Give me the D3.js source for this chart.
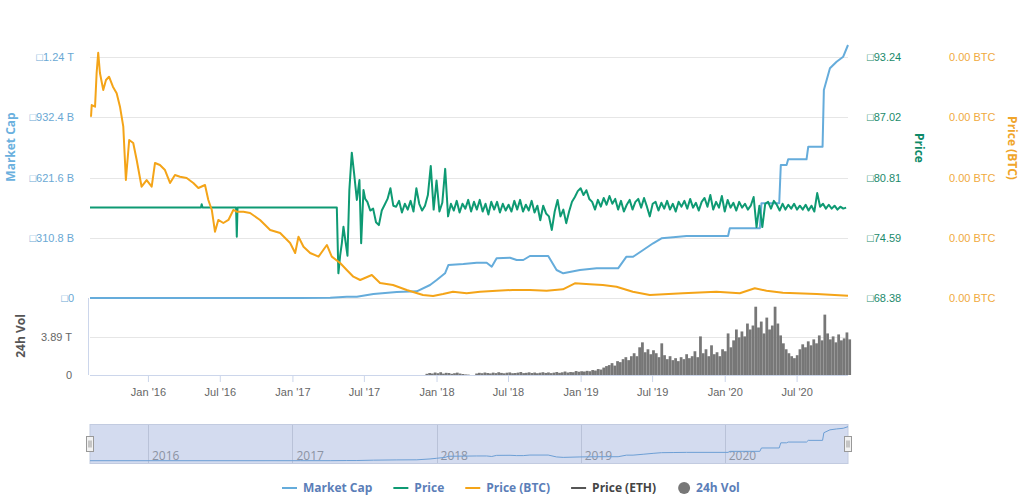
<!DOCTYPE html>
<html>
<head>
<meta charset="utf-8">
<script src="https://cdn.jsdelivr.net/npm/d3@7"></script>
<style>
body { margin: 0; background: #fff; }
svg { font-family: "Open Sans", "DejaVu Sans", sans-serif; }
</style>
</head>
<body>
<div id="chart"></div>
<script>
// dates are decimal years
const mcapDates = [2015.598, 2017.054, 2017.262, 2017.377, 2017.447, 2017.562, 2017.724, 2017.863, 2017.955, 2018.001,
  2018.059, 2018.082, 2018.186, 2018.279, 2018.348, 2018.383, 2018.417, 2018.510, 2018.556, 2018.602,
  2018.648, 2018.775, 2018.833, 2018.879, 2018.995, 2019.111, 2019.260, 2019.318, 2019.364, 2019.434,
  2019.503, 2019.561, 2019.642, 2019.735, 2020.023, 2020.035, 2020.243, 2020.254, 2020.377, 2020.388,
  2020.428, 2020.439, 2020.566, 2020.578, 2020.677, 2020.686, 2020.728, 2020.774, 2020.820, 2020.853];
const mcapValues = [0, 0.5, 1.5, 6.7, 6.7, 20.6, 31.0, 34.6, 67.1, 92.9,
  127.4, 170.2, 175.4, 182.1, 182.1, 161.5, 204.8, 207.9, 196.0, 196.0,
  216.7, 216.7, 144.4, 127.4, 144.4, 153.2, 153.2, 213.0, 213.0, 247.6,
  282.2, 308.0, 313.1, 319.8, 319.8, 359.5, 359.5, 488.5, 488.5, 686.1,
  686.1, 715.5, 715.5, 780.5, 780.5, 1073.0, 1184.9, 1218.9, 1244.8, 1305.1]; // billions

// price before mid-2017, irregular dates
const priceDates = [2015.598, 2016.367, 2016.372, 2016.378, 2016.610, 2016.615, 2016.620, 2017.308, 2017.319, 2017.331,
  2017.343, 2017.354, 2017.382, 2017.395, 2017.412, 2017.428, 2017.447, 2017.465, 2017.477, 2017.493, 2017.505];
const priceValues = [77.72, 77.72, 78.05, 77.72, 77.72, 74.70, 77.72, 77.72, 70.93, 72.74,
  74.05, 75.73, 72.74, 79.52, 83.37, 81.24, 78.49, 80.55, 74.02, 79.52, 78.6];
// price from mid-2017, one reading every 0.02 year
const priceDenseStart = 2017.52;
const priceDenseStep = 0.02;
const priceDenseValues = [
  78.3, 77.4, 77.6, 76.2, 75.9, 77.4, 78.0, 78.6, 79.7, 77.9,
  77.8, 78.4, 77.2, 78.1, 77.5, 78.4, 77.3, 79.7, 78.1, 77.4,
  77.9, 79.0, 82.0, 77.5, 80.5, 77.3, 78.2, 81.7, 76.8, 78.1,
  77.4, 78.4, 77.2, 78.1, 77.6, 78.5, 77.3, 78.3, 77.5, 78.5,
  77.3, 78.1, 77.0, 78.3, 77.5, 78.3, 77.2, 78.1, 77.4, 78.0,
  77.3, 78.4, 77.5, 78.5, 77.3, 78.0, 77.4, 78.4, 77.2, 77.9,
  76.4, 77.9, 77.1, 76.8, 75.4, 77.3, 78.5, 76.8, 77.5, 76.1,
  77.3, 78.3, 78.8, 79.4, 79.7, 79.0, 79.5, 78.6, 78.3, 77.5,
  78.5, 77.8, 78.7, 78.0, 78.9, 78.1, 78.6, 77.5, 78.4, 77.3,
  78.0, 78.5, 77.5, 78.3, 78.6, 77.7, 78.7, 77.8, 76.8, 78.1,
  78.3, 77.4, 78.2, 77.6, 78.4, 77.5, 78.1, 77.3, 78.3, 77.8,
  78.4, 77.6, 78.6, 77.7, 78.2, 77.4, 78.3, 78.7, 77.8, 79.0,
  77.5, 78.3, 77.7, 78.9, 77.3, 78.5, 77.7, 78.2, 77.4, 78.3,
  77.7, 78.1, 77.5, 77.9, 78.8, 75.7, 77.9, 75.7, 78.1, 78.3,
  77.6, 78.4, 78.0, 77.4, 78.1, 77.5, 78.0, 77.6, 78.1, 77.5,
  77.9, 77.5, 78.0, 77.4, 77.9, 77.3, 79.2, 77.8, 78.1, 77.6,
  78.0, 77.6, 77.9, 77.5, 77.8, 77.6, 77.7];

const btcDates = [2015.605, 2015.610, 2015.633, 2015.644, 2015.655, 2015.667, 2015.690, 2015.709, 2015.730, 2015.757,
  2015.783, 2015.806, 2015.829, 2015.847, 2015.870, 2015.898, 2015.922, 2015.956, 2015.991, 2016.026,
  2016.049, 2016.083, 2016.118, 2016.153, 2016.187, 2016.222, 2016.268, 2016.314, 2016.349, 2016.395,
  2016.418, 2016.442, 2016.464, 2016.487, 2016.522, 2016.557, 2016.591, 2016.615, 2016.661, 2016.707,
  2016.776, 2016.846, 2016.915, 2016.984, 2017.019, 2017.042, 2017.077, 2017.123, 2017.181, 2017.239,
  2017.273, 2017.331, 2017.377, 2017.423, 2017.470, 2017.551, 2017.608, 2017.698, 2017.793, 2017.906,
  2017.976, 2018.045, 2018.114, 2018.209, 2018.302, 2018.417, 2018.530, 2018.648, 2018.764, 2018.877,
  2018.960, 2019.064, 2019.154, 2019.249, 2019.362, 2019.480, 2019.709, 2019.942, 2020.104, 2020.208,
  2020.289, 2020.402, 2020.636, 2020.853];
const btcValues = [0.003009, 0.003203, 0.003175, 0.003735, 0.004071, 0.003735, 0.003452, 0.003618, 0.003673, 0.003507,
  0.003397, 0.003175, 0.002843, 0.001958, 0.002622, 0.002573, 0.002290, 0.001847, 0.001958, 0.001847,
  0.002241, 0.002207, 0.002124, 0.001909, 0.002041, 0.002013, 0.001992, 0.001909, 0.001826, 0.001876,
  0.001627, 0.001461, 0.001100, 0.001295, 0.001245, 0.001295, 0.001461, 0.001432, 0.001432, 0.001411,
  0.001295, 0.001129, 0.001079, 0.000913, 0.000747, 0.001017, 0.000851, 0.000747, 0.000686, 0.000880,
  0.000686, 0.000581, 0.000465, 0.000354, 0.000299, 0.000382, 0.000249, 0.000216, 0.000133, 0.000050,
  0.000033, 0.000066, 0.000105, 0.000078, 0.000105, 0.000121, 0.000133, 0.000133, 0.000121, 0.000144,
  0.000244, 0.000227, 0.000216, 0.000188, 0.000105, 0.000050, 0.000078, 0.000105, 0.000078, 0.000161,
  0.000121, 0.000088, 0.000066, 0.000038];

// weekly 24h volume (trillions) from this week on
const volStart = '2017-12-04';
const volValues = [0.12, 0.20, 0.15, 0.25, 0.18, 0.28, 0.14, 0.22, 0.20, 0.12, 0.18, 0.24, 0.15, 0.10, 0.06, 0.04,
  0.00, 0.00, 0.15,
  0.22, 0.18, 0.25, 0.20, 0.16, 0.24, 0.19, 0.28, 0.21, 0.17, 0.23, 0.26, 0.18, 0.20, 0.24, 0.30, 0.19, 0.22, 0.27,
  0.20, 0.25, 0.18, 0.23, 0.28, 0.21, 0.26, 0.19, 0.24, 0.30, 0.22, 0.27, 0.35, 0.25, 0.30, 0.28, 0.40, 0.33, 0.38,
  0.35, 0.42, 0.38, 0.50, 0.45, 0.60, 0.55, 0.75, 0.90,
  1.00, 1.20, 0.95, 1.40, 1.30, 1.60, 1.80, 1.50, 1.90,
  2.20, 1.90, 2.80, 3.30, 2.30, 2.60, 2.10, 2.50,
  2.20, 1.80, 3.20, 2.00, 1.60, 1.90, 1.50, 1.70, 1.40, 1.80, 1.60, 2.10, 1.70, 1.90, 2.40, 1.80, 3.90, 2.20,
  2.60, 1.90, 3.00, 2.10, 2.30, 1.90, 2.60, 2.40,
  4.20, 2.80, 3.50, 4.60, 3.80,
  4.40, 3.90, 5.20, 4.60, 5.00, 6.90, 4.80, 5.40, 4.20, 5.80, 4.60, 5.00, 6.90,
  5.20, 4.00, 3.20, 2.60, 2.20, 1.90, 1.70, 2.00,
  2.60, 3.10, 2.80, 3.40, 3.00, 3.60, 3.20, 4.00, 3.50, 6.10, 4.20, 3.60, 3.90, 3.30, 4.10, 3.50, 3.70, 4.30, 3.60];

const mcapTicks = [0, 310.8, 621.6, 932.4, 1243.2];
const mcapTickLabels = ['\u25A10', '\u25A1310.8 B', '\u25A1621.6 B', '\u25A1932.4 B', '\u25A11.24 T'];
const priceTicks = [68.38, 74.59, 80.81, 87.02, 93.24];
const btcTicks = [0, 0.001, 0.002, 0.003, 0.004];
const volTicks = [0, 3.89];
const volTickLabels = ['0', '3.89 T'];
const navYears = [2016, 2017, 2018, 2019, 2020];
const legendItems = [
  { name: 'Market Cap', color: '#65acdb', type: 'line', text: '#5b7eb8' },
  { name: 'Price', color: '#0e9a73', type: 'line', text: '#5b7eb8' },
  { name: 'Price (BTC)', color: '#f4a418', type: 'line', text: '#5b7eb8' },
  { name: 'Price (ETH)', color: '#555555', type: 'line', text: '#444444' },
  { name: '24h Vol', color: '#777777', type: 'dot', text: '#5b7eb8' }
];

const W = 1022, H = 500;
const plotLeft = 90, plotRight = 848;
const colors = { mcap: '#65acdb', price: '#0e9a73', btc: '#f4a418', vol: '#777777', grid: '#e6e6e6', axis: '#ccd6eb' };

function toDate(yr) {
  const y = Math.floor(yr);
  const s = Date.UTC(y, 0, 1), e = Date.UTC(y + 1, 0, 1);
  return new Date(s + (yr - y) * (e - s));
}

const svg = d3.select('#chart').append('svg')
  .attr('width', W)
  .attr('height', H);

const x = d3.scaleUtc()
  .domain([toDate(2015.598), toDate(2020.853)])
  .range([plotLeft, plotRight]);

const yMcap = d3.scaleLinear().domain([0, 1243.2]).range([298, 57]);
const yPrice = d3.scaleLinear().domain([68.38, 93.24]).range([298, 57]);
const yBtc = d3.scaleLinear().domain([0, 0.004]).range([298, 57]);
const yVol = d3.scaleLinear().domain([0, 7.78]).range([375, 298]);
const yNav = d3.scaleLinear().domain([0, 1305.1]).range([460.7, 426.7]);

// gridlines
svg.append('g').selectAll('line')
  .data(mcapTicks)
  .join('line')
  .attr('x1', plotLeft).attr('x2', plotRight)
  .attr('y1', d => Math.round(yMcap(d)) + 0.5).attr('y2', d => Math.round(yMcap(d)) + 0.5)
  .attr('stroke', colors.grid);

svg.append('g').selectAll('line')
  .data(volTicks)
  .join('line')
  .attr('x1', plotLeft).attr('x2', plotRight)
  .attr('y1', d => Math.round(yVol(d)) + 0.5).attr('y2', d => Math.round(yVol(d)) + 0.5)
  .attr('stroke', d => d === 0 ? colors.axis : colors.grid);

// volume panel left border
svg.append('line')
  .attr('x1', plotLeft - 1.5).attr('x2', plotLeft - 1.5)
  .attr('y1', 298).attr('y2', 375)
  .attr('stroke', colors.axis);

// axes
function styleAxis(g, color) {
  g.select('.domain').remove();
  g.selectAll('.tick line').remove();
  g.selectAll('text').attr('fill', color).style('font-size', '11px');
}

svg.append('g')
  .attr('transform', `translate(${plotLeft - 13},0)`)
  .call(d3.axisLeft(yMcap).tickValues(mcapTicks).tickSize(0).tickFormat((d, i) => mcapTickLabels[i]))
  .call(g => styleAxis(g, '#6aa8d4'));

svg.append('g')
  .attr('transform', `translate(${plotLeft - 15},0)`)
  .call(d3.axisLeft(yVol).tickValues(volTicks).tickSize(0).tickFormat((d, i) => volTickLabels[i]))
  .call(g => styleAxis(g, '#666'));

svg.append('g')
  .attr('transform', `translate(${plotRight + 16},0)`)
  .call(d3.axisRight(yPrice).tickValues(priceTicks).tickSize(0).tickFormat(d => '\u25A1' + d.toFixed(2)))
  .call(g => styleAxis(g, '#1b8a6b'));

svg.append('g')
  .attr('transform', `translate(${plotRight + 98},0)`)
  .call(d3.axisRight(yBtc).tickValues(btcTicks).tickSize(0).tickFormat(d => d3.format('.2f')(d) + ' BTC'))
  .call(g => styleAxis(g, '#f0aa40'));

const xTicks = d3.utcMonth.every(6).range(new Date(Date.UTC(2016, 0, 1)), new Date(Date.UTC(2020, 7, 1)));
const xAxis = svg.append('g')
  .attr('transform', 'translate(0,375)')
  .call(d3.axisBottom(x).tickValues(xTicks).tickSize(7).tickPadding(6).tickFormat(d3.utcFormat("%b '%y")));
xAxis.select('.domain').remove();
xAxis.selectAll('.tick line').attr('stroke', colors.axis);
xAxis.selectAll('text').attr('fill', '#666').style('font-size', '11px');

// axis titles
function axisTitle(text, tx, ty, rot, color) {
  svg.append('text')
    .attr('transform', `translate(${tx},${ty}) rotate(${rot})`)
    .attr('text-anchor', 'middle')
    .attr('dy', '0.35em')
    .attr('fill', color)
    .style('font-size', '12px')
    .style('font-weight', 'bold')
    .text(text);
}
axisTitle('Market Cap', 11, 147, -90, '#6ab0de');
axisTitle('24h Vol', 21, 336, -90, '#555');
axisTitle('Price', 919, 148, 90, '#0e8a68');
axisTitle('Price (BTC)', 1012, 148, 90, '#f0a52a');

// volume bars
const weekMs = 7 * 24 * 3600 * 1000;
const volT0 = new Date(volStart + 'T00:00:00Z').getTime();
const volData = volValues.map((v, i) => ({ date: new Date(volT0 + i * weekMs), v }));
svg.append('g').selectAll('rect')
  .data(volData)
  .join('rect')
  .attr('x', d => x(d.date))
  .attr('width', d => x(new Date(d.date.getTime() + weekMs)) - x(d.date))
  .attr('y', d => yVol(d.v))
  .attr('height', d => yVol(0) - yVol(d.v))
  .attr('fill', colors.vol);

// lines
function series(dates, values) {
  return dates.map((d, i) => ({ date: toDate(d), v: values[i] }));
}
const mcapData = series(mcapDates, mcapValues);
const priceData = series(priceDates, priceValues)
  .concat(priceDenseValues.map((v, i) => ({ date: toDate(priceDenseStart + i * priceDenseStep), v })));
const btcData = series(btcDates, btcValues);

svg.append('path')
  .datum(mcapData)
  .attr('fill', 'none')
  .attr('stroke', colors.mcap)
  .attr('stroke-width', 2)
  .attr('stroke-linejoin', 'round')
  .attr('d', d3.line().x(d => x(d.date)).y(d => yMcap(d.v)));

svg.append('path')
  .datum(priceData)
  .attr('fill', 'none')
  .attr('stroke', colors.price)
  .attr('stroke-width', 2)
  .attr('stroke-linejoin', 'round')
  .attr('d', d3.line().x(d => x(d.date)).y(d => yPrice(d.v)));

svg.append('path')
  .datum(btcData)
  .attr('fill', 'none')
  .attr('stroke', colors.btc)
  .attr('stroke-width', 2)
  .attr('stroke-linejoin', 'round')
  .attr('d', d3.line().x(d => x(d.date)).y(d => yBtc(d.v)));

// navigator
const nav = svg.append('g');
nav.append('rect')
  .attr('x', plotLeft).attr('y', 424.5)
  .attr('width', plotRight - plotLeft).attr('height', 39)
  .attr('fill', '#d3dbef')
  .attr('stroke', '#c2cbe0');

nav.selectAll('.yr-line')
  .data(navYears)
  .join('line')
  .attr('class', 'yr-line')
  .attr('x1', d => Math.round(x(new Date(Date.UTC(d, 0, 1)))) + 0.5)
  .attr('x2', d => Math.round(x(new Date(Date.UTC(d, 0, 1)))) + 0.5)
  .attr('y1', 425).attr('y2', 463)
  .attr('stroke', '#b9c2d8');

nav.selectAll('.yr-label')
  .data(navYears)
  .join('text')
  .attr('class', 'yr-label')
  .attr('x', d => x(new Date(Date.UTC(d, 0, 1))) + 4)
  .attr('y', 460)
  .attr('fill', '#8c93a3')
  .style('font-size', '12px')
  .text(d => d);

nav.append('path')
  .datum(mcapData)
  .attr('fill', 'none')
  .attr('stroke', '#6d9fd5')
  .attr('stroke-width', 1)
  .attr('d', d3.line().x(d => x(d.date)).y(d => yNav(d.v)));

[plotLeft, plotRight].forEach(hx => {
  const h = nav.append('g').attr('transform', `translate(${Math.round(hx) - 3.5},436.5)`);
  h.append('rect').attr('width', 7).attr('height', 15).attr('fill', '#f2f2f2').attr('stroke', '#999');
  h.append('line').attr('x1', 2.5).attr('x2', 2.5).attr('y1', 4).attr('y2', 11).attr('stroke', '#999');
  h.append('line').attr('x1', 4.5).attr('x2', 4.5).attr('y1', 4).attr('y2', 11).attr('stroke', '#999');
});

// legend
const legend = svg.append('g').attr('transform', 'translate(0,488)');
let lx = 0;
legendItems.forEach(item => {
  const g = legend.append('g');
  if (item.type === 'line') {
    g.append('line').attr('x1', 0).attr('x2', 15).attr('y1', 0).attr('y2', 0)
      .attr('stroke', item.color).attr('stroke-width', 2);
  } else {
    g.append('circle').attr('cx', 7).attr('cy', 0).attr('r', 6).attr('fill', item.color);
  }
  const off = item.type === 'line' ? 21 : 19;
  const t = g.append('text')
    .attr('x', off)
    .attr('dy', '0.35em')
    .attr('fill', item.text)
    .style('font-size', '12px')
    .style('font-weight', 'bold')
    .text(item.name);
  g.attr('transform', `translate(${lx},0)`);
  lx += off + t.node().getComputedTextLength() + 21;
});
const totalW = lx - 21;
legend.attr('transform', `translate(${Math.round(W / 2 - totalW / 2)},488)`);
</script>
</body>
</html>
